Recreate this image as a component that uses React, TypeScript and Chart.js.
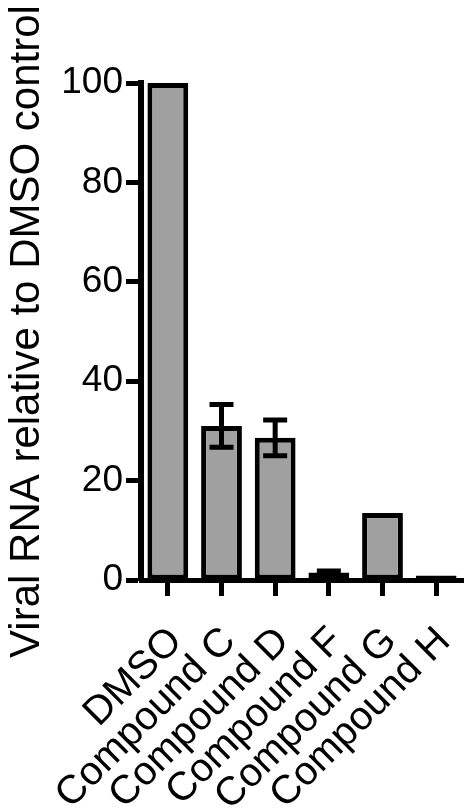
import React, { useEffect, useRef } from "react";
import { Chart, registerables } from "chart.js";

Chart.register(...registerables);

const categories = ["DMSO", "Compound C", "Compound D", "Compound F", "Compound G", "Compound H"];
const values = [100, 31, 28.6, 1.5, 13.5, 0.9];
const errors = [0, 4.3, 3.6, 0.3, 0, 0];
const yTicks = [0, 20, 40, 60, 80, 100];
const yTitle = "Viral RNA relative to DMSO control";

const FONT = '"Liberation Sans", Arial, Helvetica, sans-serif';

const errorBarPlugin = {
  id: "errorBars",
  afterDatasetsDraw(chart: any) {
    const meta = chart.getDatasetMeta(0);
    const yScale = chart.scales.y;
    const ctx = chart.ctx;
    ctx.save();
    ctx.strokeStyle = "#000";
    ctx.lineWidth = 5;
    ctx.lineCap = "butt";
    meta.data.forEach((bar: any, i: number) => {
      const e = errors[i];
      if (!e) return;
      const x = bar.x;
      const yTop = yScale.getPixelForValue(values[i] + e);
      const yBot = yScale.getPixelForValue(values[i] - e);
      const half = 12;
      ctx.beginPath();
      ctx.moveTo(x, yTop);
      ctx.lineTo(x, yBot);
      ctx.moveTo(x - half, yTop);
      ctx.lineTo(x + half, yTop);
      ctx.moveTo(x - half, yBot);
      ctx.lineTo(x + half, yBot);
      ctx.stroke();
    });
    ctx.restore();
  },
};

export default function App() {
  const ref = useRef<HTMLCanvasElement | null>(null);
  useEffect(() => {
    if (!ref.current) return;
    const chart = new Chart(ref.current, {
      type: "bar",
      data: {
        labels: categories,
        datasets: [
          {
            data: values,
            backgroundColor: "#a0a0a0",
            borderColor: "#000",
            borderWidth: 5,
            borderSkipped: false,
            categoryPercentage: 1,
            barPercentage: 0.76,
          },
        ],
      },
      options: {
        responsive: false,
        animation: false,
        layout: { padding: { left: 0, right: 3, top: 83, bottom: 0 } },
        plugins: {
          legend: { display: false },
          tooltip: { enabled: false },
        },
        scales: {
          x: {
            offset: true,
            grid: {
              offset: false,
              drawOnChartArea: false,
              drawTicks: true,
              tickLength: 16,
              tickWidth: 5,
              tickColor: "#000",
            },
            border: { display: true, color: "#000", width: 5 },
            ticks: {
              autoSkip: false,
              minRotation: 45,
              maxRotation: 45,
              color: "#000",
              font: { family: FONT, size: 40 },
              padding: 22,
              labelOffset: 8,
            },
            afterFit(scale: any) {
              scale.height = 231;
              scale.paddingLeft = 0;
              scale.paddingRight = 0;
            },
          },
          y: {
            min: 0,
            max: 100,
            afterBuildTicks(scale: any) {
              scale.ticks = yTicks.map((v) => ({ value: v }));
            },
            grid: {
              drawOnChartArea: false,
              drawTicks: true,
              tickLength: 15,
              tickWidth: 5,
              tickColor: "#000",
            },
            border: { display: true, color: "#000", width: 6 },
            ticks: {
              color: "#000",
              font: { family: FONT, size: 37 },
              padding: 3,
            },
            title: {
              display: true,
              text: yTitle,
              color: "#000",
              font: { family: FONT, size: 42 },
              padding: { top: 2, bottom: 0 },
            },
            afterFit(scale: any) {
              scale.width = 141;
              scale.paddingTop = 0;
              scale.paddingBottom = 0;
            },
          },
        },
      },
      plugins: [errorBarPlugin],
    });
    return () => chart.destroy();
  }, []);
  return (
    <div style={{ position: "absolute", left: 0, top: 0, width: 466, height: 811, background: "#fff" }}>
      <canvas ref={ref} width={466} height={811} style={{ display: "block" }} />
    </div>
  );
}
